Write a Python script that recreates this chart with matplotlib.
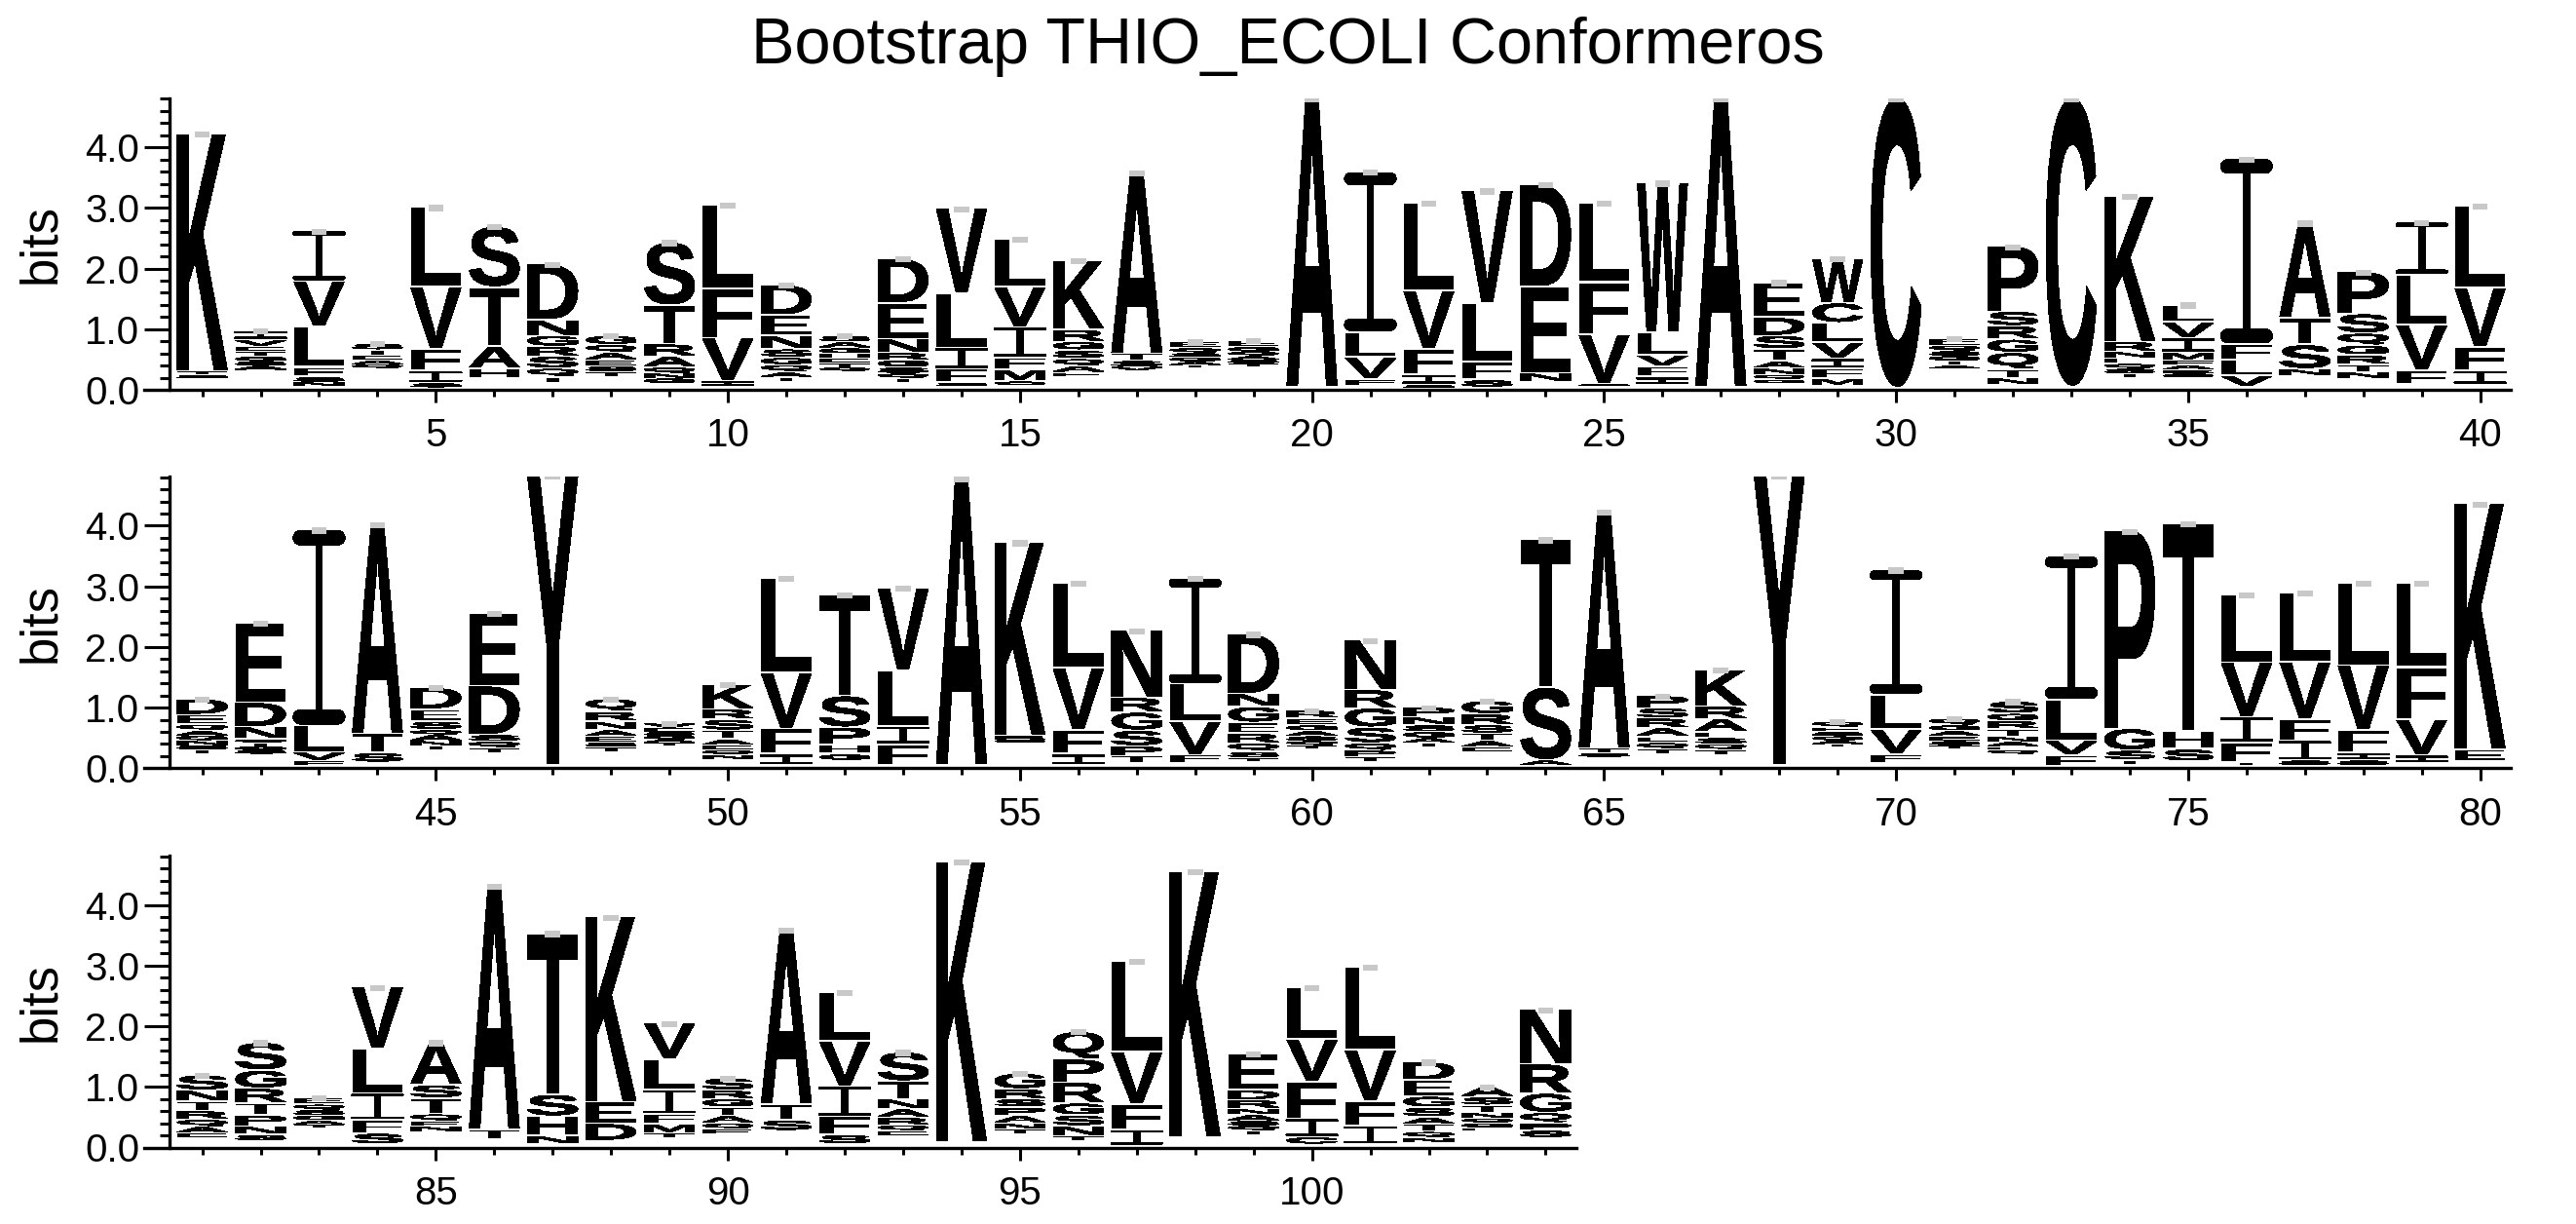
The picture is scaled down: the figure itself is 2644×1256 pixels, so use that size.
import numpy as np
import matplotlib
matplotlib.use("Agg")
import matplotlib.pyplot as plt
from matplotlib.textpath import TextPath
from matplotlib.patches import PathPatch, Rectangle, Polygon
from matplotlib.font_manager import FontProperties
from matplotlib.transforms import Affine2D
from matplotlib.ticker import MultipleLocator, FormatStrFormatter

title = "Bootstrap THIO_ECOLI Conformeros"

# rows of the logo (first, last position)
row_ranges = [(1, 40), (41, 80), (81, 104)]

# bits where each stack starts, one value per position 1..104
base_bits = [
    0.18, 0.32, 0.05, 0.35, 0.03, 0.17, 0.10, 0.21, 0.10, 0.04,
    0.13, 0.30, 0.12, 0.05, 0.07, 0.20, 0.31, 0.35, 0.38, 0.04,
    0.06, 0.03, 0.03, 0.12, 0.06, 0.07, 0.04, 0.10, 0.07, 0.02,
    0.34, 0.07, 0.04, 0.20, 0.20, 0.04, 0.23, 0.18, 0.07, 0.07,
    0.23, 0.23, 0.04, 0.08, 0.30, 0.23, 0.04, 0.26, 0.37, 0.14,
    0.04, 0.12, 0.04, 0.04, 0.42, 0.04, 0.07, 0.07, 0.10, 0.31,
    0.10, 0.34, 0.26, 0.04, 0.18, 0.23, 0.21, 0.04, 0.34, 0.07,
    0.31, 0.23, 0.02, 0.06, 0.10, 0.04, 0.04, 0.04, 0.07, 0.10,
    0.15, 0.10, 0.31, 0.04, 0.26, 0.12, 0.04, 0.10, 0.15, 0.21,
    0.26, 0.04, 0.18, 0.07, 0.21, 0.10, 0.02, 0.15, 0.21, 0.04,
    0.04, 0.07, 0.26, 0.15,
]

# letters of each stack, bottom to top
stack_letters = [
    "STK", "ASGTEVI", "NSFLVI", "QAETS", "SIFVL", "HATS", "TQSRGND", "TSEAQG", "GNQARTS", "IVFL",
    "TAQGSNED", "QTEHGAS", "TQSGRNED", "SFILV", "CMFIVL", "EAQSGRK", "VSTA", "TAGSQE", "TSAQGE", "A",
    "FVLI", "SIFVL", "SFLV", "NED", "SVFL", "IFVLW", "A", "GQNATSDE", "MFIVLCW", "C",
    "ATGSQE", "NTQGRSP", "C", "TSQENRK", "SEAFMIVL", "VLFI", "NSTA", "NTRGQSP", "FVLI", "IFVL",
    "TSNGAQED", "SGTQNDE", "FVLI", "STA", "TNAQSED", "TQSDE", "Y", "TSEANRQ", "TAGSEV", "NQEATSRK",
    "IFVL", "GHPST", "FILV", "A", "SRK", "IFVL", "TPSGRN", "FVLI", "TSQREGND", "TQSAGER",
    "TPQSGRN", "TAGSNP", "EATSRG", "AST", "STA", "TQEARSP", "TQSEARK", "Y", "TAGSEQ", "FVLI",
    "TSEAGQ", "QEANTRGS", "FVLI", "TSGP", "SHT", "TFIVL", "SIFVL", "SIFVL", "IVFL", "EK",
    "EAQRTNS", "SNPTRGS", "TAGSQE", "SFILV", "NEQTSA", "TA", "NHST", "DEK", "TMFILV", "EQATGRS",
    "STA", "SFIVL", "EQRANTS", "K", "TNAPSRG", "TNSGRPQ", "IFVL", "K", "TQSANRDE", "CIFVL",
    "IFVL", "NQTASGED", "EGQNTSA", "SPQGRN",
]

# letter heights in bits, same order as stack_letters
stack_heights = [
    [0.06, 0.06, 3.91], [0.07, 0.07, 0.08, 0.08, 0.09, 0.10, 0.15], [0.07, 0.08, 0.16, 0.67, 0.75, 0.83],
    [0.06, 0.07, 0.08, 0.09, 0.10], [0.07, 0.20, 0.36, 1.02, 1.32], [0.17, 0.36, 0.98, 1.00],
    [0.10, 0.14, 0.20, 0.16, 0.18, 0.26, 0.92], [0.08, 0.09, 0.10, 0.12, 0.13, 0.15],
    [0.08, 0.08, 0.10, 0.18, 0.20, 0.64, 1.04], [0.10, 0.70, 0.82, 1.38],
    [0.07, 0.08, 0.12, 0.12, 0.14, 0.22, 0.34, 0.50], [0.06, 0.07, 0.08, 0.08, 0.09, 0.10, 0.10],
    [0.06, 0.08, 0.10, 0.12, 0.12, 0.22, 0.60, 0.73], [0.06, 0.22, 0.35, 0.90, 1.40],
    [0.06, 0.19, 0.20, 0.50, 0.66, 0.80], [0.08, 0.10, 0.12, 0.14, 0.14, 0.20, 1.14],
    [0.06, 0.10, 0.12, 2.98], [0.05, 0.06, 0.07, 0.07, 0.08, 0.10], [0.05, 0.06, 0.06, 0.07, 0.08, 0.11],
    [4.76], [0.10, 0.36, 0.42, 2.64], [0.04, 0.17, 0.42, 0.96, 1.45], [0.12, 0.30, 0.97, 1.85],
    [0.14, 1.43, 1.68], [0.03, 0.81, 0.86, 1.31], [0.13, 0.17, 0.19, 0.38, 2.46], [4.76],
    [0.06, 0.08, 0.10, 0.12, 0.20, 0.22, 0.30, 0.58], [0.10, 0.17, 0.16, 0.27, 0.32, 0.33, 0.73], [4.78],
    [0.06, 0.07, 0.08, 0.08, 0.09, 0.11], [0.11, 0.14, 0.28, 0.22, 0.22, 0.24, 1.07], [4.76],
    [0.06, 0.08, 0.08, 0.10, 0.10, 0.16, 2.40], [0.06, 0.06, 0.08, 0.08, 0.12, 0.24, 0.26, 0.29],
    [0.18, 0.26, 0.26, 3.06], [0.10, 0.40, 0.45, 1.56], [0.10, 0.12, 0.16, 0.16, 0.20, 0.32, 0.69],
    [0.24, 0.75, 0.82, 0.87], [0.23, 0.39, 0.98, 1.35],
    [0.07, 0.07, 0.08, 0.08, 0.08, 0.10, 0.16, 0.26], [0.06, 0.06, 0.06, 0.06, 0.20, 0.40, 1.32],
    [0.07, 0.14, 0.44, 3.23], [0.16, 0.32, 3.45], [0.06, 0.08, 0.10, 0.08, 0.14, 0.20, 0.36],
    [0.10, 0.10, 0.11, 0.80, 1.21], [4.77], [0.08, 0.08, 0.10, 0.10, 0.14, 0.16, 0.21],
    [0.05, 0.05, 0.06, 0.06, 0.07, 0.07], [0.07, 0.08, 0.08, 0.10, 0.14, 0.18, 0.17, 0.41],
    [0.18, 0.42, 0.92, 1.56], [0.10, 0.16, 0.28, 0.52, 1.67], [0.34, 0.30, 0.92, 1.36], [4.72],
    [0.05, 0.06, 3.18], [0.18, 0.40, 1.02, 1.40], [0.12, 0.16, 0.26, 0.30, 0.24, 1.11],
    [0.14, 0.55, 0.62, 1.74], [0.06, 0.10, 0.14, 0.16, 0.18, 0.26, 0.22, 0.98],
    [0.06, 0.07, 0.08, 0.09, 0.09, 0.11, 0.13], [0.08, 0.10, 0.12, 0.26, 0.32, 0.30, 0.82],
    [0.07, 0.08, 0.10, 0.11, 0.13, 0.16], [0.08, 0.10, 0.12, 0.14, 0.18, 0.22], [0.08, 1.20, 2.44],
    [0.06, 0.08, 3.90], [0.08, 0.10, 0.10, 0.14, 0.16, 0.17, 0.20], [0.08, 0.10, 0.10, 0.10, 0.21, 0.21, 0.60],
    [4.77], [0.05, 0.06, 0.07, 0.07, 0.08, 0.09], [0.15, 0.41, 0.57, 2.06],
    [0.06, 0.07, 0.08, 0.09, 0.09, 0.11], [0.06, 0.06, 0.08, 0.08, 0.12, 0.14, 0.12, 0.20],
    [0.18, 0.24, 0.68, 2.37], [0.06, 0.16, 0.36, 3.26], [0.20, 0.30, 3.43], [0.05, 0.32, 0.42, 0.90, 1.12],
    [0.08, 0.32, 0.36, 0.94, 1.14], [0.08, 0.12, 0.38, 1.06, 1.36], [0.13, 0.59, 0.86, 1.39], [0.20, 4.05],
    [0.08, 0.10, 0.12, 0.14, 0.16, 0.18, 0.25], [0.10, 0.14, 0.18, 0.20, 0.24, 0.30, 0.46],
    [0.06, 0.07, 0.08, 0.09, 0.09, 0.11], [0.18, 0.22, 0.44, 0.74, 1.01], [0.08, 0.08, 0.12, 0.26, 0.22, 0.70],
    [0.16, 4.02], [0.14, 0.32, 0.36, 2.66], [0.28, 0.36, 3.05], [0.08, 0.14, 0.17, 0.40, 0.50, 0.60],
    [0.08, 0.10, 0.12, 0.14, 0.14, 0.14, 0.20], [0.18, 0.26, 2.88], [0.16, 0.30, 0.50, 0.74, 0.81],
    [0.08, 0.10, 0.12, 0.14, 0.16, 0.30, 0.48], [4.63], [0.08, 0.10, 0.12, 0.14, 0.14, 0.16, 0.26],
    [0.08, 0.16, 0.18, 0.20, 0.34, 0.38, 0.46], [0.26, 0.42, 0.86, 1.50], [4.39],
    [0.06, 0.08, 0.08, 0.10, 0.10, 0.14, 0.16, 0.60], [0.12, 0.30, 0.61, 0.70, 0.86],
    [0.30, 0.41, 0.84, 1.38], [0.08, 0.10, 0.12, 0.12, 0.16, 0.18, 0.27, 0.30],
    [0.06, 0.07, 0.08, 0.09, 0.12, 0.14, 0.17], [0.12, 0.12, 0.17, 0.32, 0.48, 0.90],
]

W, H = 2644, 1256
unit_px = 59.95          # pixels per position
bit_px = 62.2            # pixels per bit
left_px = 174
zero_px = [400, 788.3, 1177.5]
ymax = 4.81

letter_font = FontProperties(family="Liberation Sans", weight="bold")
glyphs = {}


def get_glyph(letter):
    if letter not in glyphs:
        path = TextPath((0, 0), letter, size=1, prop=letter_font)
        glyphs[letter] = (path, path.get_extents())
    return glyphs[letter]


def draw_serif_i(ax, x, yb, hh, width):
    # thin stem with two round-ended bars
    bar = min(max(0.075 * hh, 0.025), hh / 3)
    stem = 0.13
    ax.add_patch(Rectangle((x - stem / 2, yb + bar / 2), stem, hh - bar,
                           facecolor="black", edgecolor="none", antialiased=False))
    ry = bar / 2
    rx = min(ry * bit_px / unit_px, width / 4)
    t = np.linspace(-np.pi / 2, np.pi / 2, 12)
    for yc in (yb + ry, yb + hh - ry):
        right = np.column_stack([x + width / 2 - rx + rx * np.cos(t), yc + ry * np.sin(t)])
        left = np.column_stack([x - width / 2 + rx - rx * np.cos(t[::-1]), yc + ry * np.sin(t[::-1])])
        ax.add_patch(Polygon(np.vstack([right, left]), closed=True, facecolor="black",
                             edgecolor="none", antialiased=False))


def draw_letter(ax, letter, x, y0, h, width=0.86):
    gap = min(0.035, 0.25 * h)
    if letter == "I":
        draw_serif_i(ax, x, y0 + gap, h - gap, width + 0.03)
        return
    path, ext = get_glyph(letter)
    t = (Affine2D().translate(-ext.x0, -ext.y0)
         .scale(width / ext.width, (h - gap) / ext.height)
         .translate(x - width / 2, y0 + gap))
    ax.add_patch(PathPatch(t.transform_path(path), facecolor="black",
                           edgecolor="none", antialiased=False))


fig = plt.figure(figsize=(W / 100, H / 100), dpi=100)
fig.text(0.5, 1 - 65 / H, title, ha="center", va="baseline",
         fontsize=48, family="Liberation Sans")

for row, (first, last) in enumerate(row_ranges):
    lo, hi = first - 0.56, last + 0.53
    ax = fig.add_axes([left_px / W, 1 - zero_px[row] / H,
                       (hi - lo) * unit_px / W, ymax * bit_px / H])
    for p in range(first, last + 1):
        y = base_bits[p - 1]
        for letter, h in zip(stack_letters[p - 1], stack_heights[p - 1]):
            draw_letter(ax, letter, p, y, h)
            y += h
        ax.add_patch(Rectangle((p - 0.13, y - 0.05), 0.26, 0.1,
                               facecolor="#c8c8c8", edgecolor="none", zorder=5))
    ax.set_xlim(lo, hi)
    ax.set_ylim(0, ymax)
    for side in ["top", "right"]:
        ax.spines[side].set_visible(False)
    for side in ["left", "bottom"]:
        ax.spines[side].set_linewidth(2.4)
    ax.spines["bottom"].set_bounds(lo - 0.44, hi)
    ax.xaxis.set_major_locator(MultipleLocator(5))
    ax.xaxis.set_minor_locator(MultipleLocator(1))
    ax.yaxis.set_major_locator(MultipleLocator(1))
    ax.yaxis.set_minor_locator(MultipleLocator(0.2))
    ax.yaxis.set_major_formatter(FormatStrFormatter("%.1f"))
    ax.tick_params(axis="y", which="major", length=18.7, width=2.2, pad=3.5, labelsize=29)
    ax.tick_params(axis="y", which="minor", length=7.5, width=2.2)
    ax.tick_params(axis="x", which="major", length=9.5, width=2.2, pad=11, labelsize=29)
    ax.tick_params(axis="x", which="minor", length=5, width=2.2)
    for lab in ax.get_xticklabels() + ax.get_yticklabels():
        lab.set_family("Liberation Sans")
    ax.set_ylabel("bits", fontsize=38, family="Liberation Sans", labelpad=14)

fig.savefig("out.png", dpi=100)
